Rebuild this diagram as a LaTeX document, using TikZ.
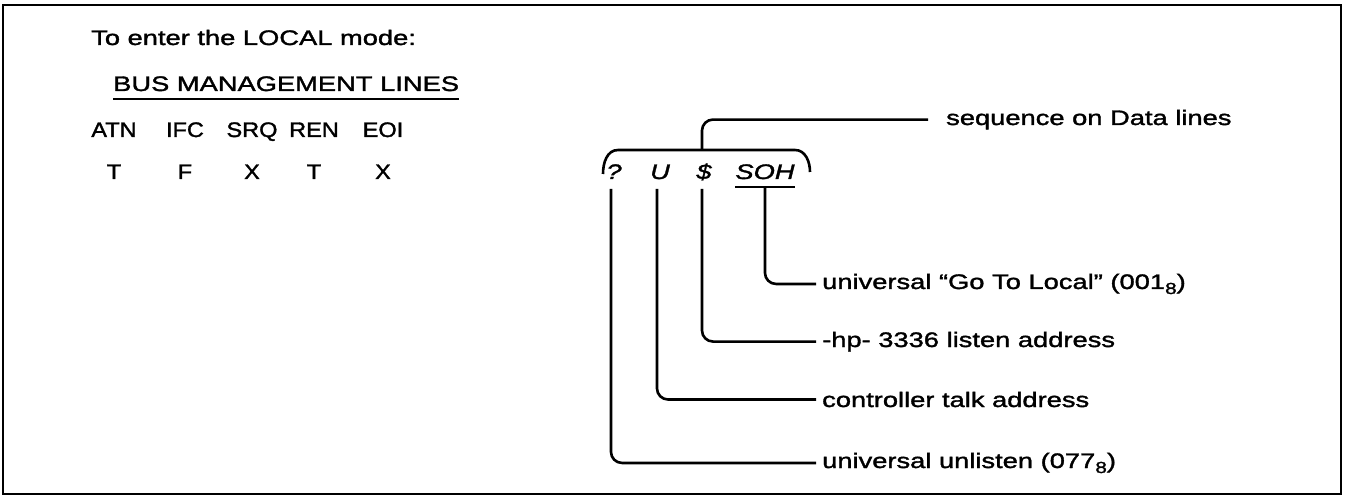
\documentclass[tikz,border=0pt]{standalone}
\usepackage{fontspec}
\setmainfont{Liberation Sans}[FakeStretch=1.3,FakeBold=1.6]
\newfontfamily\hdrfont{Liberation Sans}[FakeStretch=1.12,FakeBold=1.6]
\usetikzlibrary{calc}
\begin{document}
\begin{tikzpicture}[x=1pt,y=-1pt,
  txt/.style={inner sep=0pt,font=\fontsize{21}{25}\selectfont},
  hdr/.style={inner sep=0pt,anchor=base,font=\hdrfont\fontsize{21}{25}\selectfont},
  lbl/.style={txt,anchor=base west,inner xsep=6pt},
  conn/.style={line width=2.6pt,rounded corners=11pt},
  frame/.style={line width=2.5pt}]
\useasboundingbox (0,0) rectangle (1345,497);
\draw[frame] (3,5) rectangle (1341,494);

% left block
\node[txt,anchor=base west] (intro) at (91,45) {To enter the LOCAL mode:};
\node[txt,anchor=base west] (bus) at (113,91) {BUS MANAGEMENT LINES};
\draw[line width=2.2pt] ([yshift=-8pt]bus.base west) -- ([yshift=-8pt]bus.base east);

\foreach \n/\x/\a/\b in {atn/114/ATN/T, ifc/185/IFC/F, srq/252/SRQ/X, ren/314/REN/T, eoi/383/EOI/X}{
  \node[hdr] (\n) at (\x,137) {\a};
  \node[hdr] (\n v) at (\x,179) {\b};
}

% sequence
\node[txt,anchor=base] (q) at (614,179) {\itshape ?};
\node[txt,anchor=base] (u) at (660,179) {\itshape U};
\node[txt,anchor=base] (d) at (704,179) {\itshape\$};
\node[txt,anchor=base] (soh) at (765,179) {\itshape SOH};
\draw[line width=2.2pt] ([yshift=-8pt]soh.base west) -- ([yshift=-8pt]soh.base east);

\coordinate (bl) at (603,174);
\coordinate (br) at (810,172);
\coordinate (top) at (702,150);
\draw[line width=2.6pt] (bl) to[out=90,in=180] (618,150) -- (795,150) to[out=0,in=90] (br);

\node[txt,anchor=base west,inner xsep=18pt] (seq) at (928,125) {sequence on Data lines};
\draw[conn] (top) |- (seq.west);

% labels
\newcommand{\octsub}{\raisebox{-0.45ex}{\fontsize{16}{16}\selectfont 8}}
\node[lbl] (l1) at (816,289) {universal ``Go To Local'' (001\octsub)};
\node[lbl] (l2) at (816,347) {-hp- 3336 listen address};
\node[lbl] (l3) at (816,407) {controller talk address};
\node[lbl] (l4) at (816,468) {universal unlisten (077\octsub)};

\draw[conn] ([yshift=-8pt]soh.base) |- (l1.west);
\draw[conn] ([xshift=-2pt,yshift=-10pt]d.base) |- (l2.west);
\draw[conn] ([xshift=-3pt,yshift=-10pt]u.base) |- (l3.west);
\draw[conn] ([xshift=-3pt,yshift=-10pt]q.base) |- (l4.west);
\end{tikzpicture}
\end{document}
